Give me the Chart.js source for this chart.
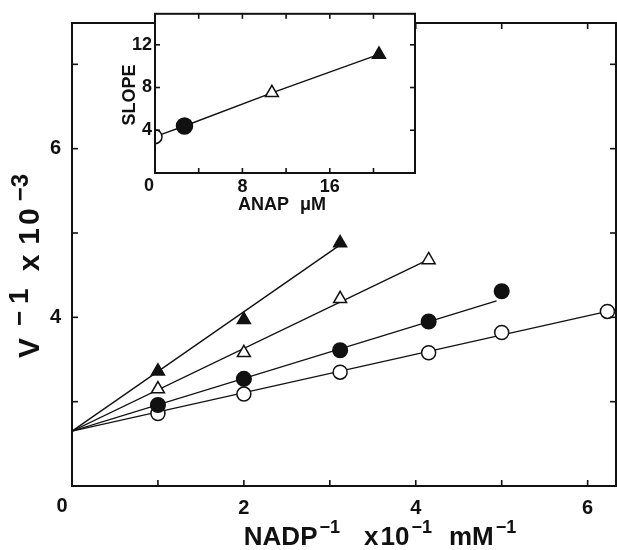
<!DOCTYPE html>
<html>
<head>
<meta charset="utf-8">
<script src="https://cdn.jsdelivr.net/npm/chart.js@4.4.1/dist/chart.umd.min.js"></script>
<style>
  html, body { margin: 0; padding: 0; background: #fff; overflow: hidden; }
  #wrap { position: relative; width: 617px; height: 550px; overflow: hidden; background: #fff; }
  #main { position: absolute; left: 0; top: 0; }
  #inset { position: absolute; left: 100px; top: 0; }
</style>
</head>
<body>
<div id="wrap">
  <canvas id="main" width="625" height="550"></canvas>
  <canvas id="inset" width="330" height="220"></canvas>
</div>
<script>
// ---------- data ----------
const nadpX = [1, 2, 3.12, 4.15, 5, 6.23];           // NADP^-1 x 10^-1 mM^-1
const filledTriangle = [3.36, 3.97, 4.88];             // highest ANAP
const openTriangle   = [3.15, 3.58, 4.22, 4.68];
const filledCircle   = [2.96, 3.27, 3.61, 3.95, 4.31];
const openCircle     = [2.86, 3.09, 3.35, 3.58, 3.82, 4.07]; // no ANAP
const interceptY = 2.65;                                // common intercept of fitted lines
const fitEndX = [3.12, 4.14, 4.94, 6.23];               // end of each fitted line
const fitEndY = [4.86, 4.68, 4.196, 4.07];

const xTickLabels = ['', '', '2', '', '4', '', '6'];    // x ticks 0..6
const yTickLabels = {4: '4', 6: '6'};

const anapX = [0, 2.7, 10.7, 20.5];                     // ANAP µM
const slopeY = [3.4, 4.4, 7.5, 11.1];
const insetXTickLabels = {8: '8', 16: '16'};
const insetYTickLabels = {4: '4', 8: '8', 12: '12'};

// ---------- helpers ----------
const INK = '#111';
const FONT = "'Liberation Sans', Arial, Helvetica, sans-serif";

function toPts(xs, ys) { return ys.map((y, i) => ({x: xs[i], y})); }

function drawPieces(ctx, pieces, cx, cy, angle) {
  ctx.save();
  ctx.translate(cx, cy);
  ctx.rotate(angle);
  ctx.fillStyle = INK;
  ctx.textBaseline = 'alphabetic';
  ctx.textAlign = 'left';
  let total = 0;
  pieces.forEach(p => {
    ctx.font = `bold ${p.size}px ${FONT}`;
    ctx.letterSpacing = (p.ls || 0) + 'px';
    p.w = ctx.measureText(p.t).width;
    total += p.w + (p.gap || 0);
  });
  let x = -total / 2;
  pieces.forEach(p => {
    ctx.font = `bold ${p.size}px ${FONT}`;
    ctx.letterSpacing = (p.ls || 0) + 'px';
    ctx.fillText(p.t, x, -(p.up || 0));
    x += p.w + (p.gap || 0);
  });
  ctx.letterSpacing = '0px';
  ctx.restore();
}

function frameAndTicks(chart, len, xs, ys) {
  const {ctx, chartArea: a, scales} = chart;
  ctx.save();
  ctx.strokeStyle = INK;
  ctx.lineWidth = 1.6;
  xs.forEach(v => {
    const p = scales.x.getPixelForValue(v);
    ctx.beginPath(); ctx.moveTo(p, a.bottom); ctx.lineTo(p, a.bottom - len); ctx.stroke();
    ctx.beginPath(); ctx.moveTo(p, a.top); ctx.lineTo(p, a.top + len); ctx.stroke();
  });
  ys.forEach(v => {
    const p = scales.y.getPixelForValue(v);
    ctx.beginPath(); ctx.moveTo(a.left, p); ctx.lineTo(a.left + len, p); ctx.stroke();
    ctx.beginPath(); ctx.moveTo(a.right, p); ctx.lineTo(a.right - len, p); ctx.stroke();
  });
  ctx.lineWidth = 2;
  ctx.strokeRect(a.left, a.top, a.right - a.left, a.bottom - a.top);
  ctx.restore();
}

// ---------- main chart ----------
const mainPlugin = {
  id: 'mainDeco',
  afterDraw(chart) {
    const {ctx, chartArea: a, scales} = chart;
    const xt = scales.x.ticks.map(t => t.value).filter(v => v > scales.x.min);
    const yt = scales.y.ticks.map(t => t.value).filter(v => v > scales.y.min);
    frameAndTicks(chart, 6, xt, yt);
    // origin label
    ctx.save();
    ctx.fillStyle = INK;
    ctx.font = `bold 20px ${FONT}`;
    ctx.textAlign = 'center'; ctx.textBaseline = 'top';
    ctx.fillText('0', scales.x.getPixelForValue(0) - 10, a.bottom + 10);
    ctx.restore();
    // axis titles
    drawPieces(ctx, [
      {t: 'NADP', size: 26, gap: 2},
      {t: '\u22121', size: 18, up: 12, gap: 24},
      {t: 'x', size: 26, gap: 2},
      {t: '10', size: 26, gap: 2},
      {t: '\u22121', size: 18, up: 12, gap: 17},
      {t: 'mM', size: 26, gap: 2},
      {t: '\u22121', size: 18, up: 12}
    ], 380, 545, 0);
    drawPieces(ctx, [
      {t: 'V', size: 30, gap: 12},
      {t: '\u2212', size: 26, up: 11, gap: 7},
      {t: '1', size: 28, up: 11, gap: 17},
      {t: 'x', size: 30, gap: 10},
      {t: '10', size: 30, ls: 3, gap: 4},
      {t: '\u22123', size: 24, up: 11}
    ], 39, 266, -Math.PI / 2);
  }
};

const lineSets = fitEndX.map((ex, i) => ({
  type: 'scatter', showLine: true, order: 1,
  data: [{x: 0, y: interceptY}, {x: ex, y: fitEndY[i]}],
  borderColor: INK, borderWidth: 1.4, pointRadius: 0, pointHoverRadius: 0
}));

function markers(ys, style, fill, r) {
  return {
    type: 'scatter', order: 0,
    data: toPts(nadpX, ys),
    pointStyle: style, pointRadius: r, pointHoverRadius: r,
    pointBackgroundColor: fill, pointBorderColor: INK, pointBorderWidth: 1.5
  };
}

new Chart(document.getElementById('main'), {
  type: 'scatter',
  data: {
    datasets: [
      markers(filledTriangle, 'triangle', INK, 7.5),
      markers(openTriangle, 'triangle', '#fff', 7.5),
      markers(filledCircle, 'circle', INK, 7.3),
      markers(openCircle, 'circle', '#fff', 7),
      ...lineSets
    ]
  },
  options: {
    responsive: false, animation: false, devicePixelRatio: 1,
    layout: {padding: {left: 0, top: 10, right: 5, bottom: 0}},
    plugins: {legend: {display: false}, tooltip: {enabled: false}},
    scales: {
      x: {
        type: 'linear', min: 0, max: 6.33,
        afterFit: s => { s.height = 64; },
        grid: {display: false, drawTicks: false}, border: {display: false},
        ticks: {stepSize: 1, includeBounds: false, padding: 10, color: INK,
          font: {family: FONT, size: 20, weight: 'bold'},
          callback: v => xTickLabels[Math.round(v)] || ''}
      },
      y: {
        type: 'linear', min: 2, max: 7.49,
        afterFit: s => { s.width = 72; },
        grid: {display: false, drawTicks: false}, border: {display: false},
        ticks: {stepSize: 1, includeBounds: false, padding: 11, color: INK,
          font: {family: FONT, size: 20, weight: 'bold'},
          callback: v => yTickLabels[Math.round(v)] || ''}
      }
    }
  },
  plugins: [mainPlugin]
});

// ---------- inset chart ----------
const insetPlugin = {
  id: 'insetDeco',
  beforeDatasetsDraw(chart) {
    const {ctx, chartArea: a} = chart;
    ctx.save(); ctx.fillStyle = '#fff';
    ctx.fillRect(a.left, a.top, a.right - a.left, a.bottom - a.top);
    ctx.restore();
    ctx.save();
    ctx.beginPath();
    ctx.rect(a.left, a.top, a.right - a.left, a.bottom - a.top);
    ctx.clip();
  },
  afterDatasetsDraw(chart) {
    chart.ctx.restore();
  },
  afterDraw(chart) {
    const {ctx, chartArea: a, scales} = chart;
    const xt = scales.x.ticks.map(t => t.value).filter(v => v > scales.x.min);
    const yt = scales.y.ticks.map(t => t.value).filter(v => v > scales.y.min);
    frameAndTicks(chart, 5, xt, yt);
    ctx.save();
    ctx.fillStyle = INK;
    ctx.font = `bold 18px ${FONT}`;
    ctx.textAlign = 'center'; ctx.textBaseline = 'top';
    ctx.fillText('0', scales.x.getPixelForValue(0) - 6, a.bottom + 4);
    ctx.restore();
    drawPieces(ctx, [{t: 'ANAP', size: 18, gap: 11}, {t: '\u03bcM', size: 18}],
      182, 210, 0);
    drawPieces(ctx, [{t: 'SLOPE', size: 18}], 35, 95, -Math.PI / 2);
  }
};

new Chart(document.getElementById('inset'), {
  type: 'scatter',
  data: {
    datasets: [{
      showLine: true, clip: 0,
      data: toPts(anapX, slopeY),
      borderColor: INK, borderWidth: 1.4,
      pointStyle: ['circle', 'circle', 'triangle', 'triangle'],
      pointRadius: [7, 8, 7.5, 7.5], pointHoverRadius: 7,
      pointBackgroundColor: ['#fff', INK, '#fff', INK],
      pointBorderColor: INK, pointBorderWidth: 1.5
    }]
  },
  options: {
    responsive: false, animation: false, devicePixelRatio: 1,
    layout: {padding: {left: 0, top: 10, right: 15, bottom: 0}},
    plugins: {legend: {display: false}, tooltip: {enabled: false}},
    scales: {
      x: {
        type: 'linear', min: 0, max: 23.8,
        afterFit: s => { s.height = 47; },
        grid: {display: false, drawTicks: false}, border: {display: false},
        ticks: {stepSize: 4, includeBounds: false, padding: 3, color: INK,
          font: {family: FONT, size: 18, weight: 'bold'},
          callback: v => insetXTickLabels[Math.round(v)] || ''}
      },
      y: {
        type: 'linear', min: 0, max: 14.9,
        afterFit: s => { s.width = 55; },
        grid: {display: false, drawTicks: false}, border: {display: false},
        ticks: {stepSize: 4, includeBounds: false, padding: 3, color: INK,
          font: {family: FONT, size: 18, weight: 'bold'},
          callback: v => insetYTickLabels[Math.round(v)] || ''}
      }
    }
  },
  plugins: [insetPlugin]
});
</script>
</body>
</html>
